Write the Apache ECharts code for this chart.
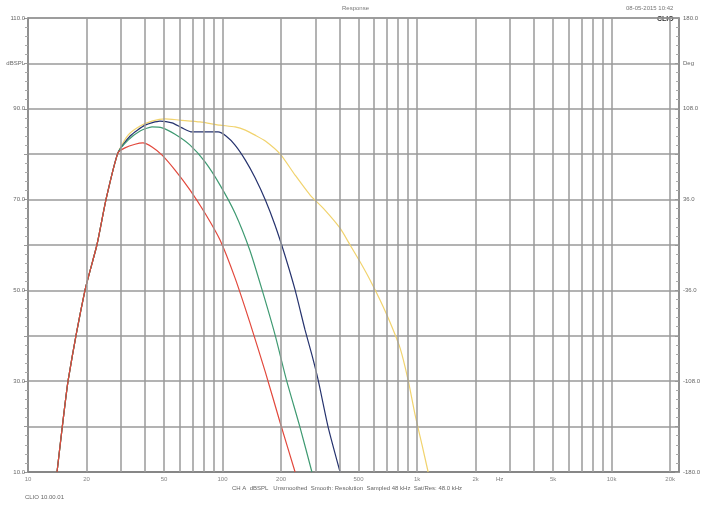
<!DOCTYPE html>
<html>
<head>
<meta charset="utf-8">
<script src="https://cdn.jsdelivr.net/npm/echarts@6/dist/echarts.min.js"></script>
<style>
html,body{margin:0;padding:0;background:#fff;}
#c{width:705px;height:508px;}
</style>
</head>
<body>
<div id="c"></div>
<script>
// ---- data ----
const riseFreq = [14.1, 15.0, 16.1, 19.6, 22.6, 25.2, 29.0];
const riseDb   = [10, 19.9, 30.3, 49.9, 60.0, 70.1, 80.3];

const redFreq = [31.5, 35.5, 39.0, 43.4, 48.9, 57.0, 68.1, 81.3, 97.1, 116, 138, 166, 198, 236];
const redDb   = [81.4, 82.2, 82.5, 81.6, 79.8, 76.5, 72.1, 67.0, 61.1, 52.7, 43.0, 32.0, 20.8, 10];

const greenFreq = [32.7, 37.7, 43.4, 48.9, 57.0, 68.1, 81.3, 97.1, 116, 138, 159.7, 186.2, 213, 250, 288];
const greenDb   = [83.1, 85.1, 86.0, 85.8, 84.4, 82.0, 78.3, 73.2, 67.0, 58.9, 50.1, 40.2, 30.3, 19.9, 10];

const blueFreq = [33.5, 40.0, 47.7, 55.0, 61.9, 69.7, 81.3, 94.8, 104.2, 116, 131, 147, 166, 186, 209, 236, 265.5, 288, 310, 349, 402];
const blueDb   = [84.0, 86.4, 87.3, 86.9, 85.8, 84.9, 84.9, 84.9, 84.0, 82.0, 78.7, 74.8, 69.9, 64.4, 57.8, 50.1, 41.3, 35.8, 30.3, 19.9, 10];

const yellowFreq = [32.7, 37.7, 43.4, 50.6, 60.4, 76.6, 97.1, 116, 131, 147, 166, 198, 236, 282, 336, 402, 452.6, 509, 573, 645, 726, 818, 899, 977, 1061, 1140];
const yellowDb   = [84.2, 86.2, 87.3, 87.8, 87.5, 87.1, 86.4, 86.0, 85.3, 84.2, 82.9, 80.0, 75.4, 71.0, 67.7, 63.7, 60.0, 56.3, 52.3, 47.9, 43.0, 37.3, 30.3, 22.6, 15.9, 10];

const gridFreqs = [20,30,40,50,60,70,80,90,100,200,300,400,500,600,700,800,900,1000,2000,3000,4000,5000,6000,7000,8000,9000,10000,20000];
const xTickFreqs  = [10, 20, 50, 100, 200, 500, 1000, 2000, 5000, 10000, 20000];
const xTickLabels = ['10','20','50','100','200','500','1k','2k','5k','10k','20k'];

const leftLabels  = {110:'110.0', 100:'dBSPL', 90:'90.0', 70:'70.0', 50:'50.0', 30:'30.0', 10:'10.0'};
const rightLabels = {180:'180.0', 144:'Deg', 108:'108.0', 36:'36.0', '-36':'-36.0', '-108':'-108.0', '-180':'-180.0'};

// ---- build ----
function pairs(f, d) { return f.map((v, i) => [v, d[i]]); }
const rise = pairs(riseFreq, riseDb);

const FONT = 'Liberation Sans';
const chart = echarts.init(document.getElementById('c'), null, {renderer: 'canvas'});

const lineSeries = (name, color, f, d) => ({
  name, type: 'line', showSymbol: false, symbol: 'none', smooth: 0.2,
  data: rise.concat(pairs(f, d)),
  lineStyle: {color, width: 1.2}, z: 3, animation: false
});

chart.setOption({
  animation: false,
  backgroundColor: '#fff',
  textStyle: {fontFamily: FONT},
  grid: {left: 28, right: 26, top: 18, bottom: 36, show: true, borderColor: '#8a8a8a', borderWidth: 1.5, backgroundColor: 'transparent'},
  xAxis: {
    type: 'log', min: 10, max: 22200, logBase: 10,
    axisLine: {show: true, onZero: false, lineStyle: {color: '#808080', width: 1.5}},
    axisTick: {show: false}, axisLabel: {show: false},
    splitLine: {show: false}
  },
  yAxis: [{
    type: 'value', min: 10, max: 110, interval: 10, position: 'left',
    axisLine: {show: true, onZero: false, lineStyle: {color: '#8a8a8a', width: 1.5}},
    axisTick: {show: true, length: 4, inside: false, lineStyle: {color: '#999'}},
    minorTick: {show: true, splitNumber: 5, length: 3, lineStyle: {color: '#aaa'}},
    axisLabel: {fontSize: 6, color: '#666', margin: 3, formatter: v => leftLabels[v] || ''},
    splitLine: {show: true, lineStyle: {color: '#9a9a9a', width: 1.5}}
  }, {
    type: 'value', min: -180, max: 180, interval: 36, position: 'right',
    axisLine: {show: true, onZero: false, lineStyle: {color: '#8a8a8a', width: 1.5}},
    axisTick: {show: true, length: 4, inside: true, lineStyle: {color: '#999'}},
    minorTick: {show: true, splitNumber: 5, length: 3, lineStyle: {color: '#aaa'}},
    axisLabel: {fontSize: 6, color: '#666', margin: 4, formatter: v => rightLabels[String(v)] || ''},
    splitLine: {show: false}
  }],
  series: [
    {
      name: 'grid', type: 'line', data: [], z: 1, silent: true,
      markLine: {
        silent: true, symbol: 'none', label: {show: false}, animation: false,
        lineStyle: {color: '#9a9a9a', width: 1.5, type: 'solid'},
        data: gridFreqs.map(f => ({xAxis: f}))
      }
    },
    {
      name: 'xlabels', type: 'scatter', symbolSize: 0, z: 2, silent: true, clip: false,
      data: xTickFreqs.map((f, i) => ({value: [f, 10], name: xTickLabels[i]})),
      label: {show: true, position: 'bottom', distance: 4, fontSize: 6, color: '#666', formatter: p => p.name}
    },
    lineSeries('yellow', '#f1d36e', yellowFreq, yellowDb),
    lineSeries('blue', '#26336e', blueFreq, blueDb),
    lineSeries('green', '#3f9a72', greenFreq, greenDb),
    lineSeries('red', '#e2483c', redFreq, redDb)
  ],
  graphic: [
    {type: 'text', left: 342, top: 5, style: {text: 'Response', fontSize: 6, fill: '#777', fontFamily: FONT}},
    {type: 'text', left: 626, top: 5, style: {text: '08-05-2015 10:42', fontSize: 6, fill: '#777', fontFamily: FONT}},
    {type: 'text', left: 657, top: 16, style: {text: 'CLIO', fontSize: 7, fontWeight: 'bold', fill: '#333', fontFamily: FONT}},
    {type: 'text', left: 496, top: 476, style: {text: 'Hz', fontSize: 6, fill: '#777', fontFamily: FONT}},
    {type: 'text', left: 232, top: 485, style: {text: 'CH A  dBSPL   Unsmoothed  Smooth: Resolution  Sampled 48 kHz  Sat/Res: 48.0 kHz', fontSize: 6, fill: '#666', fontFamily: FONT}},
    {type: 'text', left: 25, top: 494, style: {text: 'CLIO 10.00.01', fontSize: 6, fill: '#666', fontFamily: FONT}}
  ]
});
</script>
</body>
</html>
